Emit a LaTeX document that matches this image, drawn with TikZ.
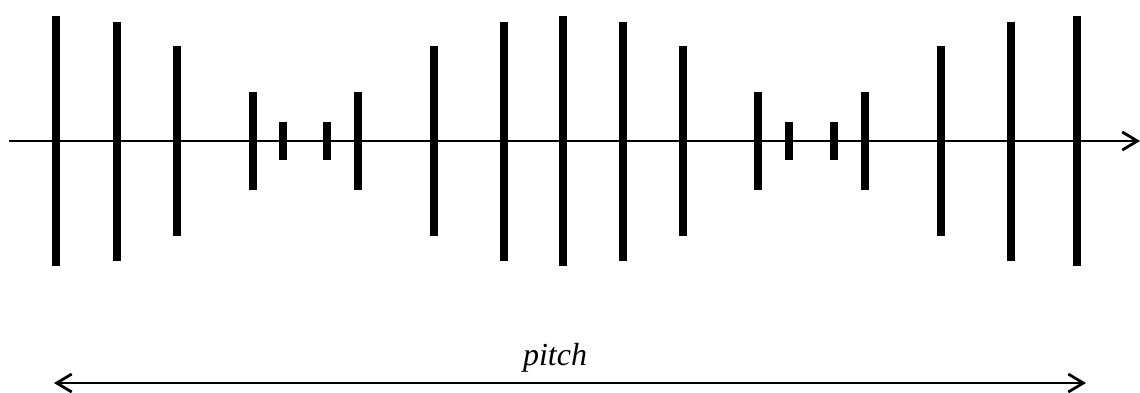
\documentclass[tikz,border=0pt]{standalone}
\usepackage{fontspec}
\setmainfont{Liberation Serif}
\usetikzlibrary{arrows.meta}
\definecolor{phInk}{HTML}{000000}
\tikzset{
  ph axis/.style={draw=phInk, line width=1.4pt, -{Straight Barb[length=7.5pt,width=9pt,line width=1.4pt]}},
  ph bar/.style={draw=phInk, line width=4pt},
  ph span/.style={draw=phInk, line width=1.4pt, {Straight Barb[length=7.5pt,width=9pt,line width=1.4pt]}-{Straight Barb[length=7.5pt,width=9pt,line width=1.4pt]}},
  ph label/.style={font=\itshape\fontsize{16}{19}\selectfont, text=phInk, inner sep=0pt},
}
\begin{document}
\begin{tikzpicture}[x=.5pt,y=-.5pt]
  \useasboundingbox (0,0) rectangle (1140,392);
  % the axis
  \coordinate (ax0) at (9,141); \coordinate (ax1) at (1140,141);
  \draw[ph axis] (ax0) -- (ax1);
  % bars, position/half length
  \foreach \x/\h in {56/125,116.5/119.5,176.5/95,252.5/49,282.7/19,327/19,358/49,434/95,504/119.5,562.5/125,623/119.5,683/95,758/49,789/19,834/19,865/49,941/95,1011/119.5,1077/125}{\draw[ph bar] ({\x},{141-\h}) -- ({\x},{141+\h});}
  % the pitch
  \coordinate (pl) at (54,383); \coordinate (pr) at (1086,383);
  \draw[ph span] (pl) -- (pr);
  \node[ph label,anchor=base] (pitch) at (555,365) {pitch};
\end{tikzpicture}
\end{document}
